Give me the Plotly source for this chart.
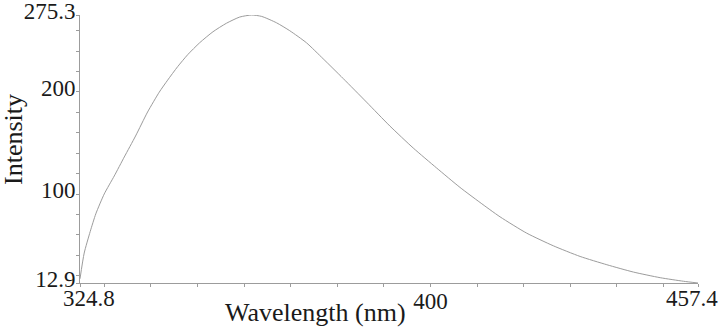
import plotly.graph_objects as go

# Emission spectrum (wavelength in nm, intensity in a.u.)
wavelength = [324.8, 325.70, 326.99, 328.19, 330.0, 332.15, 334.30, 336.72, 339.30, 341.81,
              343.60, 345.75, 347.90, 350.47, 353.33, 356.21, 359.07, 361.64, 363.79, 366.95,
              369.81, 373.39, 376.96, 381.25, 386.28, 391.29, 396.29, 401.32, 406.33, 410.62,
              414.92, 420.65, 426.37, 432.10, 437.84, 443.55, 449.29, 454.29, 457.4]
intensity = [17.0, 42.2, 63.3, 80.6, 100.1, 117.7, 136.3, 156.8, 180.3, 199.8,
             211.5, 224.7, 236.4, 248.1, 258.9, 267.2, 273.3, 275.3, 273.9, 267.7,
             259.9, 248.1, 232.5, 213.2, 190.0, 166.6, 145.1, 125.5, 106.5, 91.8,
             77.7, 61.7, 49.3, 38.9, 30.8, 23.6, 18.1, 14.6, 12.9]

x_range = [324.8, 457.4]
y_range = [12.9, 275.3]

# tick marks: every 10 nm / 20 units, labels only at selected values
x_ticks = [324.8] + list(range(330, 460, 10)) + [457.4]
x_labels = {400: "400"}
y_ticks = [12.9] + list(range(20, 280, 20)) + [275.3]
y_labels = {12.9: "12.9", 100: "100", 200: "200", 275.3: "275.3"}

serif = "Liberation Serif, Times New Roman, serif"
text_color = "#1a1a1a"
grey = "#9c9c9c"

fig = go.Figure()
fig.add_trace(go.Scatter(
    x=wavelength, y=intensity, mode="lines",
    line=dict(color=grey, width=1, shape="spline", smoothing=0.6),
    hoverinfo="skip", showlegend=False,
))

fig.update_layout(
    width=720, height=327,
    margin=dict(l=80, r=22, t=15, b=44, autoexpand=False),
    paper_bgcolor="white", plot_bgcolor="white",
    font=dict(family=serif, color=text_color),
    xaxis=dict(
        range=x_range, showgrid=False, zeroline=False, automargin=False,
        showline=True, linecolor=grey, linewidth=1,
        ticks="outside", ticklen=3, tickcolor=grey,
        tickvals=x_ticks,
        ticktext=[x_labels.get(v, "") for v in x_ticks],
        tickfont=dict(size=23, family=serif, color=text_color),
        ticklabelstandoff=-6,
    ),
    yaxis=dict(
        range=y_range, showgrid=False, zeroline=False, automargin=False,
        showline=True, linecolor=grey, linewidth=1,
        ticks="outside", ticklen=3, tickcolor=grey,
        tickvals=y_ticks,
        ticktext=[y_labels.get(v, "") for v in y_ticks],
        tickfont=dict(size=23, family=serif, color=text_color),
        ticklabelshift=-4, ticklabelstandoff=-4,
        ticklabeloverflow="allow",
    ),
)

# end labels of the wavelength axis, nudged to stay inside the frame
for val, shift in [(324.8, 9), (457.4, -6)]:
    fig.add_annotation(
        x=val, y=0, xref="x", yref="paper", text=f"{val}",
        showarrow=False, xanchor="center", yanchor="top",
        xshift=shift, yshift=-1,
        font=dict(size=23, family=serif, color=text_color),
    )

# axis titles
fig.add_annotation(
    xref="paper", yref="paper", x=(315 - 80) / 618, y=-(312 - 283) / 268,
    text="Wavelength (nm)", showarrow=False,
    xanchor="center", yanchor="middle",
    font=dict(size=26, family=serif, color=text_color),
)
fig.add_annotation(
    xref="paper", yref="paper", x=-(80 - 13) / 618, y=(283 - 140) / 268,
    text="Intensity", textangle=-90, showarrow=False,
    xanchor="center", yanchor="middle",
    font=dict(size=26, family=serif, color=text_color),
)

fig.write_html("out.html")
